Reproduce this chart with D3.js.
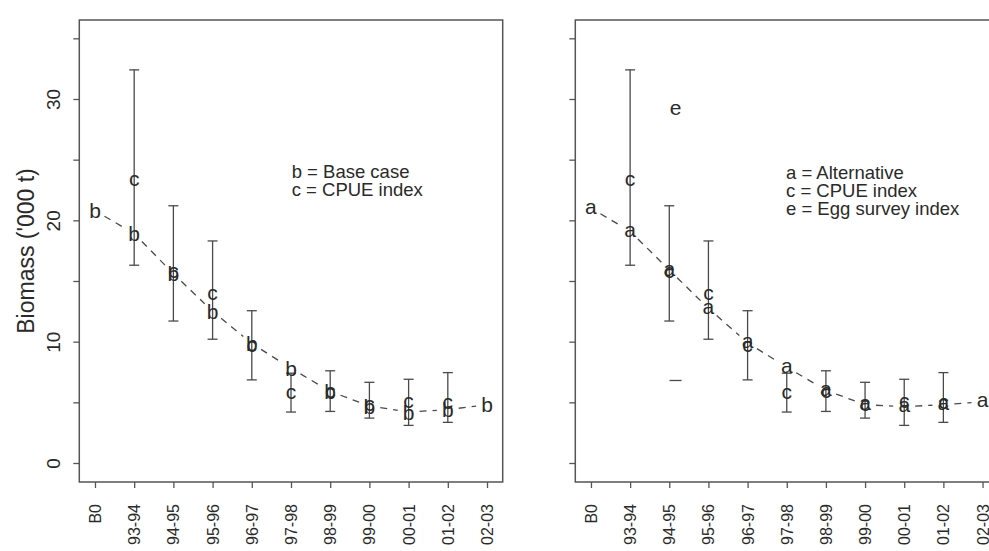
<!DOCTYPE html>
<html>
<head>
<meta charset="utf-8">
<script src="https://cdn.jsdelivr.net/npm/d3@7"></script>
<style>
  html, body { margin: 0; padding: 0; background: #fff; }
  svg { display: block; }
  text { font-family: "Liberation Sans", Arial, Helvetica, sans-serif; fill: #2a2a2a; }
</style>
</head>
<body>
<svg id="chart" width="989" height="551"></svg>
<script>
// ---------- data ----------
const categories = ["B0","93-94","94-95","95-96","96-97","97-98","98-99","99-00","00-01","01-02","02-03"];
const baseCase    = [20.8, 18.9, 15.6, 12.5, 9.85, 7.8, 5.9, 4.7, 4.2, 4.4, 4.8];
const alternative = [21.0, 19.1, 15.9, 12.75, 9.9, 7.9, 6.0, 4.8, 4.65, 4.8, 5.05];
const cpueIndex   = [null, 23.3, 15.7, 13.9, 9.6, 5.75, 5.8, 4.7, 5.0, 4.9, null];
const cpueLower   = [null, 16.3, 11.7, 10.2, 6.85, 4.2, 4.25, 3.7, 3.1, 3.35, null];
const cpueUpper   = [null, 32.4, 21.2, 18.3, 12.55, 7.4, 7.6, 6.65, 6.9, 7.45, null];
const eggPosition = [2.16];
const eggIndex    = [29.1];
const eggLower    = [6.8];
const yTicks      = [0, 5, 10, 15, 20, 25, 30, 35];
const yTickLabels = [0, 10, 20, 30];
const yLabel      = "Biomass ('000 t)";
const legendLeft  = ["b = Base case", "c = CPUE index"];
const legendRight = ["a = Alternative", "c = CPUE index", "e = Egg survey index"];

// ---------- layout ----------
const svg = d3.select("#chart");
const y = d3.scaleLinear().domain([-1.566, 36.51]).range([482, 20]);
const idx = categories.map((d, i) => i);

const panels = [
  { range: [79.3, 502.7], model: baseCase, letter: "b", legend: legendLeft, legendX: 291.7, legendY: 171.7, showYLabels: true, egg: false },
  { range: [575.3, 998.2], model: alternative, letter: "a", legend: legendRight, legendX: 786, legendY: 172.5, showYLabels: false, egg: true }
];

const axisColor = "#555";
const lineColor = "#4a4a4a";
const glyphSize = 21;
// vertical offset (em) to centre a glyph on its ink box
const glyphShift = ch => (ch === "b" ? 0.36 : 0.26);

function glyph(g, xp, yp, ch) {
  g.append("text")
    .attr("x", xp).attr("y", yp)
    .attr("dy", glyphShift(ch) + "em")
    .attr("text-anchor", "middle")
    .style("font-size", glyphSize + "px")
    .text(ch);
}

panels.forEach(p => {
  const x = d3.scaleLinear().domain([-0.4, 10.4]).range(p.range);
  const g = svg.append("g");

  // box
  g.append("rect")
    .attr("x", x(-0.4)).attr("y", y(36.51))
    .attr("width", x(10.4) - x(-0.4)).attr("height", y(-1.566) - y(36.51))
    .attr("fill", "none").attr("stroke", axisColor).attr("stroke-width", 1.5);

  // y axis
  const yAxis = d3.axisLeft(y).tickValues(yTicks).tickSize(6)
    .tickFormat(d => (p.showYLabels && yTickLabels.includes(d)) ? d : "");
  const ya = g.append("g").attr("transform", `translate(${x(-0.4)},0)`).call(yAxis);
  ya.select(".domain").remove();
  ya.selectAll(".tick line").attr("stroke", axisColor).attr("stroke-width", 1.3);
  ya.selectAll(".tick text")
    .attr("x", 0).attr("dy", 0)
    .attr("transform", d => `translate(-26,0) rotate(-90)`)
    .attr("text-anchor", "middle")
    .attr("dominant-baseline", "central")
    .style("font-size", "19px").style("fill", "#2a2a2a");

  // x axis
  const xAxis = d3.axisBottom(x).tickValues(idx).tickSize(6).tickFormat(i => categories[i]);
  const xa = g.append("g").attr("transform", `translate(0,${y(-1.566)})`).call(xAxis);
  xa.select(".domain").remove();
  xa.selectAll(".tick line").attr("stroke", axisColor).attr("stroke-width", 1.3);
  xa.selectAll(".tick text")
    .attr("x", 0).attr("y", 0).attr("dy", 0)
    .attr("transform", "translate(0,22) rotate(-90)")
    .attr("text-anchor", "end")
    .attr("dominant-baseline", "central")
    .style("font-size", "16px").style("fill", "#2a2a2a");

  // y label
  if (p.showYLabels) {
    g.append("text")
      .attr("transform", `translate(26,${(y(-1.566) + y(36.51)) / 2}) rotate(-90)`)
      .attr("text-anchor", "middle")
      .attr("dominant-baseline", "central")
      .style("font-size", "23px")
      .text(yLabel);
  }

  // dashed model line (type "b": gaps around points)
  const gap = 11;
  for (let i = 0; i < p.model.length - 1; i++) {
    const x1 = x(i), y1 = y(p.model[i]), x2 = x(i + 1), y2 = y(p.model[i + 1]);
    const len = Math.hypot(x2 - x1, y2 - y1);
    if (len <= 2 * gap) continue;
    const ux = (x2 - x1) / len, uy = (y2 - y1) / len;
    g.append("line")
      .attr("x1", x1 + ux * gap).attr("y1", y1 + uy * gap)
      .attr("x2", x2 - ux * gap).attr("y2", y2 - uy * gap)
      .attr("stroke", lineColor).attr("stroke-width", 1.3)
      .attr("stroke-dasharray", "7,6");
  }

  // CPUE error bars
  const cap = 5;
  cpueIndex.forEach((v, i) => {
    if (v == null) return;
    g.append("line").attr("x1", x(i)).attr("x2", x(i))
      .attr("y1", y(cpueLower[i])).attr("y2", y(cpueUpper[i]))
      .attr("stroke", lineColor).attr("stroke-width", 1.3);
    [cpueLower[i], cpueUpper[i]].forEach(e => {
      g.append("line").attr("x1", x(i) - cap).attr("x2", x(i) + cap)
        .attr("y1", y(e)).attr("y2", y(e))
        .attr("stroke", lineColor).attr("stroke-width", 1.3);
    });
  });

  // egg survey index
  if (p.egg) {
    eggIndex.forEach((v, k) => {
      g.append("line").attr("x1", x(eggPosition[k]) - 6).attr("x2", x(eggPosition[k]) + 6)
        .attr("y1", y(eggLower[k])).attr("y2", y(eggLower[k]))
        .attr("stroke", lineColor).attr("stroke-width", 1.3);
      glyph(g, x(eggPosition[k]), y(v), "e");
    });
  }

  // model points
  p.model.forEach((v, i) => glyph(g, x(i), y(v), p.letter));
  // CPUE points
  cpueIndex.forEach((v, i) => { if (v != null) glyph(g, x(i), y(v), "c"); });

  // legend
  p.legend.forEach((t, k) => {
    g.append("text")
      .attr("x", p.legendX).attr("y", p.legendY + k * 17.8)
      .attr("dominant-baseline", "central")
      .style("font-size", "18.5px")
      .text(t);
  });
});
</script>
</body>
</html>
